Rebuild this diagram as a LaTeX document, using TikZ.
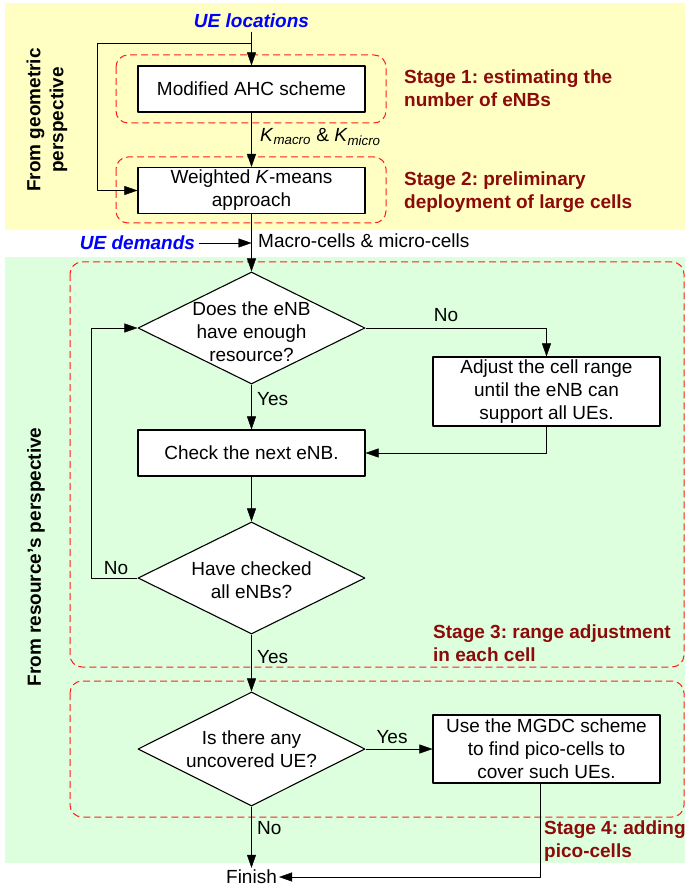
\documentclass[tikz,border=0pt]{standalone}
\usepackage{fontspec}
\setmainfont{Liberation Sans}
\usetikzlibrary{arrows.meta,shapes.geometric}
\definecolor{bgyellow}{RGB}{255,255,196}
\definecolor{bggreen}{RGB}{221,255,221}
\definecolor{stagered}{RGB}{140,10,10}
\definecolor{dashred}{RGB}{255,30,30}
\frenchspacing
\begin{document}
\begin{tikzpicture}[x=1pt,y=-1pt,>={Triangle[length=13pt,width=9pt]},line join=round,
	font=\fontsize{19}{23}\selectfont,
	box/.style={draw,fill=white,line width=1.1pt,minimum width=227pt,minimum height=46pt,inner sep=0pt,align=center},
	dec/.style={draw,fill=white,diamond,line width=1.1pt,minimum width=227pt,minimum height=112pt,inner sep=0pt},
	stage/.style={draw=dashred,dash pattern=on 7pt off 4pt,line width=1pt,rounded corners=12pt},
	stagelbl/.style={text=stagered,font=\fontsize{19}{23}\selectfont\bfseries,anchor=west,align=left,inner sep=0pt},
	ue/.style={text=blue,font=\fontsize{19}{23}\selectfont\bfseries\itshape},
	lbl/.style={anchor=west,inner sep=0pt}]
	\useasboundingbox (0,0) rectangle (685,890);
	% backgrounds
	\fill[bgyellow] (5,3) rectangle (685,230);
	\fill[bggreen] (5,257) rectangle (685,863);
	% stages
	\draw[stage] (116,55) rectangle (386,123);
	\draw[stage] (116,157) rectangle (386,223);
	\draw[stage] (70,262) rectangle (684,667);
	\draw[stage] (70,681) rectangle (684,817);
	\node[stagelbl] (s1) at (404,88) {Stage 1: estimating the\\number of eNBs};
	\node[stagelbl] (s2) at (404,192.5) {Stage 2: preliminary\\deployment of large cells};
	\node[stagelbl] (s3) at (433,643) {Stage 3: range adjustment\\in each cell};
	\node[stagelbl] (s4) at (544,841.5) {Stage 4: adding\\pico-cells};
	\node[rotate=90,font=\fontsize{19}{23}\selectfont\bfseries,align=center] (geo) at (47,120) {From geometric\\perspective};
	\node[rotate=90,font=\fontsize{19}{23}\selectfont\bfseries] (res) at (36,557) {From resource's perspective};
	% geometric part
	\node[ue] (loc) at (251.5,21) {UE locations};
	\coordinate (split) at (251.5,43);
	\node[box] (ahc) at (251.5,89) {Modified AHC scheme};
	\node[box] (wkm) at (251.5,190.5) {Weighted \textit{K}-means\\approach};
	\node[lbl] (kk) at (260,137) {\textit{K}\textsubscript{\textit{macro}} \& \textit{K}\textsubscript{\textit{micro}}};
	\draw[->] (loc) -- (ahc);
	\draw[->] (split) -- ++(-154.5,0) |- (wkm);
	\draw[->] (ahc) -- (wkm);
	\node[ue] (dem) at (137.5,243) {UE demands};
	\coordinate (join) at (251.5,243);
	\node[lbl] (mm) at (258,241) {Macro-cells \& micro-cells};
	\draw[->] (dem) -- (join);
	% resource part
	\node[dec] (d1) at (251.5,328) {};
	\node[align=center,inner sep=0pt] (d1t) at (251.5,332) {Does the eNB\\have enough\\resource?};
	\node[box,minimum height=69pt] (adj) at (546.5,391.5) {Adjust the cell range\\until the eNB can\\support all UEs.};
	\node[box] (chk) at (251.5,453) {Check the next eNB.};
	\node[dec] (d2) at (251.5,578) {};
	\node[align=center,inner sep=0pt] (d2t) at (251.5,580) {Have checked\\all eNBs?};
	\node[dec,minimum height=114pt] (d3) at (251.5,749) {};
	\node[align=center,inner sep=0pt] (d3t) at (251.5,749) {Is there any\\uncovered UE?};
	\node[box,minimum height=68pt] (mgdc) at (546.5,749) {Use the MGDC scheme\\to find pico-cells to\\cover such UEs.};
	\node[inner sep=2pt] (fin) at (251.5,877) {Finish};
	\draw[->] (wkm) -- (d1);
	\draw[->] (d1.east) -| (adj.north);
	\node (no1) at (446,315) {No};
	\draw[->] (d1.south) -- (chk.north);
	\node[lbl] (yes1) at (257,399) {Yes};
	\draw[->] (adj.south) |- (chk.east);
	\draw[->] (chk.south) -- (d2.north);
	\draw[->] (d2.west) -- ++(-46,0) |- (d1.west);
	\node (no2) at (116,568) {No};
	\draw[->] (d2.south) -- (d3.north);
	\node[lbl] (yes2) at (257,657) {Yes};
	\draw[->] (d3.east) -- (mgdc.west);
	\node (yes3) at (392,737) {Yes};
	\draw[->] (d3.south) -- (fin.north);
	\node[lbl] (no3) at (257,828) {No};
	\draw[->] ([xshift=-6pt]mgdc.south) |- (fin.east);
\end{tikzpicture}
\end{document}
